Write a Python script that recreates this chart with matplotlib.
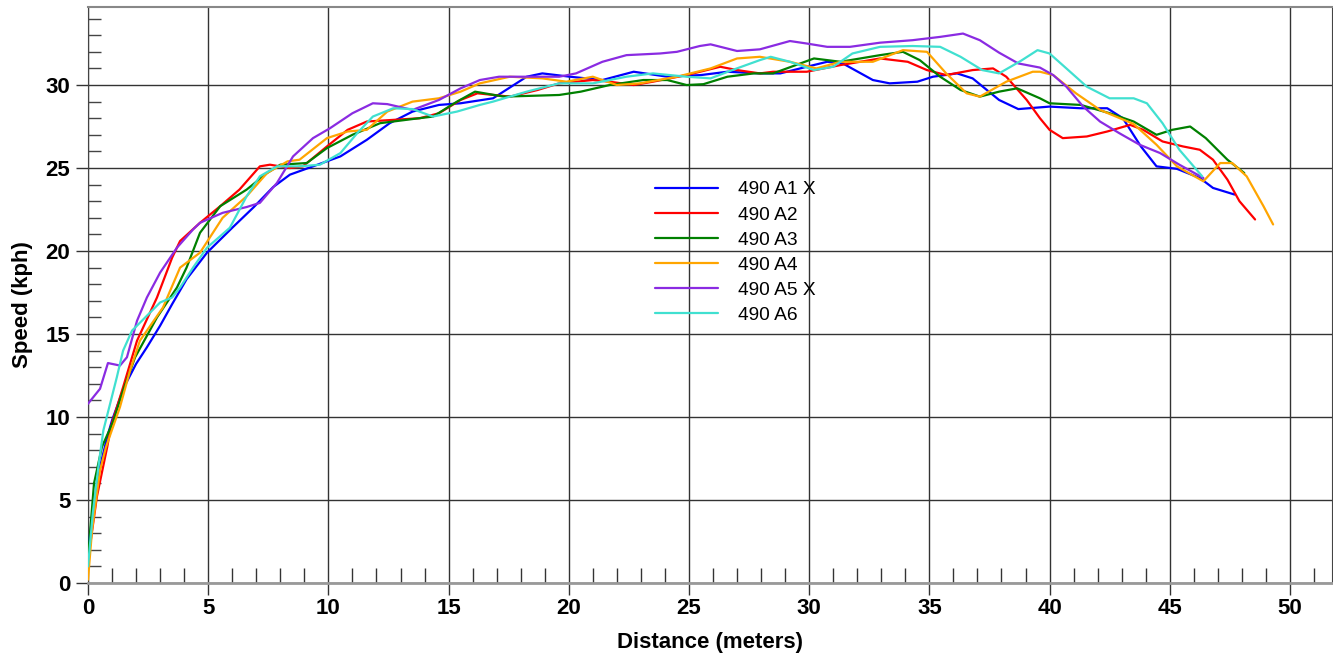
import matplotlib
matplotlib.use("Agg")
import matplotlib.pyplot as plt
from matplotlib.ticker import MultipleLocator, FixedLocator

plt.rcParams['font.family'] = ['Liberation Sans', 'DejaVu Sans']

labels = ["490 A1 X", "490 A2", "490 A3", "490 A4", "490 A5 X", "490 A6"]
colors = ["#0000ff", "#ff0000", "#008000", "#ffa500", "#8a2be2", "#40e0d0"]

a1_x = [0, 0.25, 0.5, 0.8, 1.0, 1.5, 2.0, 2.45, 3.0, 3.5, 4.1, 4.95, 6.0, 6.9, 7.7, 8.4, 9.36, 10.5,
        11.6, 12.55, 13.5, 14.6, 15.5, 16.85, 18.25, 18.9, 20.05, 21.4, 22.7, 24.1, 25.5, 26.6, 27.95,
        28.8, 29.9, 30.75, 31.4, 32.65, 33.35, 34.5, 35.15, 36.15, 36.8, 37.9, 38.7, 40.0, 41.3, 42.4,
        43.05, 43.8, 44.45, 45.3, 46.25, 46.8, 47.7]
a1_y = [2.0, 4.8, 7.0, 8.8, 9.8, 11.8, 13.2, 14.2, 15.5, 16.8, 18.3, 19.9, 21.4, 22.65, 23.85, 24.6, 25.1, 25.7,
        26.7, 27.7, 28.4, 28.8, 28.9, 29.2, 30.5, 30.7, 30.5, 30.3, 30.8, 30.5, 30.6, 30.8, 30.7,
        30.7, 31.1, 31.4, 31.3, 30.3, 30.1, 30.2, 30.5, 30.7, 30.4, 29.1, 28.55, 28.7, 28.6, 28.6,
        28.0, 26.3, 25.1, 24.95, 24.4, 23.8, 23.4]

a2_x = [0, 0.08, 0.37, 0.8, 0.95, 1.46, 2.04, 2.87, 3.5, 3.83, 4.66, 5.5, 6.3, 7.15, 7.57, 8.4, 8.94, 9.94,
        10.8, 11.6, 12.7, 13.8, 14.6, 15.5, 16.2, 17.55, 18.7, 19.6, 21.0, 21.7, 22.7, 23.5, 24.9, 26.3,
        27.0, 27.95, 28.5, 29.9, 31.3, 32.95, 34.1, 34.9, 35.7, 36.8, 37.65, 38.2, 39.05, 39.6, 40.0,
        40.55, 41.55, 42.4, 43.35, 43.9, 44.7, 45.55, 46.25, 46.8, 47.4, 47.9, 48.55]
a2_y = [1.5, 2.2, 5.2, 8.2, 9.4, 11.8, 14.6, 17.2, 19.6, 20.6, 21.7, 22.7, 23.7, 25.1, 25.2, 25.0, 25.1, 26.3,
        27.3, 27.8, 27.9, 28.0, 28.3, 29.1, 29.5, 29.3, 29.7, 30.1, 30.3, 30.2, 30.0, 30.2, 30.6, 31.1,
        30.9, 30.7, 30.8, 30.8, 31.2, 31.6, 31.4, 30.9, 30.6, 30.9, 31.0, 30.5, 29.1, 28.0, 27.3,
        26.8, 26.9, 27.2, 27.6, 27.3, 26.6, 26.3, 26.1, 25.5, 24.3, 23.0, 21.9]

a3_x = [0, 0.25, 0.58, 1.04, 1.46, 1.96, 2.87, 3.7, 4.1, 4.66, 5.5, 6.6, 7.45, 8.0, 9.1, 9.94, 11.0, 12.15,
        13.5, 14.35, 15.35, 16.1, 17.3, 19.6, 20.5, 21.7, 23.1, 24.1, 24.9, 25.6, 26.6, 27.7, 28.5, 30.2,
        31.3, 32.95, 33.9, 34.6, 35.45, 36.3, 37.1, 37.9, 38.65, 39.6, 40.0, 41.3, 42.5, 43.5, 44.45,
        45.1, 45.85, 46.5, 47.4, 48.1]
a3_y = [1.5, 6.0, 8.2, 9.7, 11.6, 13.6, 16.0, 17.8, 19.0, 21.1, 22.7, 23.7, 24.7, 25.2, 25.3, 26.2, 27.0, 27.7,
        27.95, 28.1, 29.0, 29.6, 29.3, 29.4, 29.6, 30.0, 30.3, 30.3, 30.0, 30.05, 30.5, 30.7, 30.7, 31.6,
        31.4, 31.8, 32.0, 31.5, 30.5, 29.7, 29.3, 29.6, 29.8, 29.2, 28.9, 28.8, 28.3, 27.8, 27.0,
        27.3, 27.5, 26.8, 25.5, 24.7]

a4_x = [0, 0.17, 0.5, 0.75, 1.04, 1.33, 1.75, 2.16, 3.12, 3.83, 4.66, 5.6, 6.6, 7.45, 8.3, 8.8, 9.94, 10.8,
        11.6, 12.45, 13.5, 14.6, 15.5, 16.3, 17.55, 18.9, 19.9, 21.0, 22.0, 22.95, 24.5, 25.9, 27.0,
        27.95, 29.2, 30.3, 31.3, 32.65, 33.9, 34.9, 35.7, 36.55, 37.1, 38.2, 39.3, 39.6, 40.15, 41.1,
        42.1, 43.5, 44.45, 45.3, 46.4, 47.1, 47.6, 48.2, 48.9, 49.3]
a4_y = [0.2, 3.2, 6.8, 8.2, 9.4, 10.6, 12.8, 14.6, 16.6, 19.0, 19.9, 22.0, 23.3, 24.7, 25.4, 25.5, 26.8, 27.2,
        27.3, 28.4, 29.0, 29.2, 29.6, 30.1, 30.5, 30.4, 30.2, 30.5, 30.0, 30.1, 30.5, 31.0, 31.6,
        31.7, 31.4, 31.0, 31.4, 31.4, 32.1, 32.0, 30.7, 29.5, 29.3, 30.2, 30.8, 30.8, 30.6, 29.5,
        28.5, 27.65, 26.4, 25.1, 24.2, 25.3, 25.3, 24.5, 22.7, 21.6]

a5_x = [0, 0.5, 0.83, 1.33, 1.62, 2.04, 2.45, 3.0, 3.7, 4.37, 4.66, 5.6, 6.6, 7.15, 7.86, 8.53, 9.36, 10.07,
        11.0, 11.85, 12.45, 13.5, 14.6, 15.5, 16.3, 17.1, 18.25, 19.6, 20.3, 21.4, 22.4, 23.8, 24.5,
        25.45, 25.9, 27.0, 27.95, 29.2, 29.9, 30.75, 31.7, 32.95, 34.3, 35.45, 36.4, 37.1, 37.9, 38.7,
        39.6, 40.15, 40.7, 41.4, 42.1, 42.9, 43.75, 44.6, 45.4, 46.4]
a5_y = [10.8, 11.7, 13.25, 13.1, 13.6, 15.8, 17.2, 18.7, 20.2, 21.3, 21.7, 22.3, 22.65, 22.9, 24.1, 25.7, 26.8, 27.4,
        28.3, 28.9, 28.85, 28.5, 29.1, 29.8, 30.3, 30.5, 30.5, 30.5, 30.7, 31.4, 31.8, 31.9, 32.0,
        32.35, 32.45, 32.05, 32.15, 32.65, 32.5, 32.3, 32.3, 32.55, 32.7, 32.9, 33.1, 32.7, 31.95, 31.3,
        31.05, 30.6, 29.9, 28.7, 27.8, 27.1, 26.4, 25.9, 25.2, 24.4]

a6_x = [0, 0.2, 0.45, 0.64, 0.92, 1.2, 1.46, 1.83, 2.45, 3.0, 3.5, 3.83, 4.37, 4.95, 5.9, 6.6, 7.15, 7.86,
        8.8, 9.65, 10.5, 11.2, 11.85, 12.7, 13.5, 14.35, 15.35, 16.3, 16.85, 18.25, 19.6, 21.0, 22.4,
        23.5, 24.9, 25.9, 26.8, 27.95, 28.4, 29.2, 30.2, 31.0, 31.8, 32.95, 34.3, 35.45, 36.3, 37.2,
        37.9, 38.8, 39.5, 40.0, 40.7, 41.55, 42.5, 43.5, 44.05, 44.7, 45.4, 46.35]
a6_y = [1.0, 4.2, 7.2, 9.2, 10.8, 12.4, 14.0, 15.2, 16.1, 16.9, 17.2, 17.8, 19.0, 20.2, 21.4, 23.3, 24.5, 25.1,
        25.1, 25.2, 25.9, 27.1, 28.1, 28.6, 28.55, 28.1, 28.4, 28.8, 29.0, 29.6, 30.1, 30.1, 30.5,
        30.7, 30.5, 30.4, 30.9, 31.5, 31.7, 31.4, 30.9, 31.1, 31.9, 32.3, 32.35, 32.3, 31.7, 30.9,
        30.7, 31.45, 32.1, 31.9, 31.0, 29.9, 29.2, 29.2, 28.9, 27.7, 26.1, 24.5]

xs = [a1_x, a2_x, a3_x, a4_x, a5_x, a6_x]
ys = [a1_y, a2_y, a3_y, a4_y, a5_y, a6_y]

fig = plt.figure(figsize=(13.33, 6.6), dpi=100)
ax = fig.add_axes([88 / 1333, 77 / 660, 1244 / 1333, 576 / 660])

for x, y, c, lab in zip(xs, ys, colors, labels):
    ax.plot(x, y, color=c, lw=1.6, label=lab, solid_joinstyle='round',
            solid_capstyle='round', zorder=3)

ax.set_xlim(0, 51.75)
ax.set_ylim(0, 34.7)
ax.xaxis.set_major_locator(MultipleLocator(5))
ax.yaxis.set_major_locator(MultipleLocator(5))
ax.xaxis.set_minor_locator(FixedLocator([v for v in range(1, 52) if v % 5 != 0]))
ax.yaxis.set_minor_locator(FixedLocator([v for v in range(1, 35) if v % 5 != 0]))

ax.grid(True, which='major', color='#333333', lw=1.0, zorder=1)
ax.tick_params(which='major', direction='out', length=8.6, width=1.0, color='#333333',
               labelsize=16)
ax.tick_params(axis='x', which='major', pad=2)
ax.tick_params(axis='y', which='major', pad=4)
ax.tick_params(which='minor', axis='x', direction='in', length=10.8, width=1.0, color='#333333')
ax.tick_params(which='minor', axis='y', direction='in', length=9.0, width=1.0, color='#444444')
for lab in ax.get_xticklabels() + ax.get_yticklabels():
    lab.set_fontweight('bold')

ax.spines['bottom'].set_color('#999999')
ax.spines['bottom'].set_linewidth(2.0)
ax.spines['top'].set_color('#888888')
ax.spines['top'].set_linewidth(1.5)
ax.spines['left'].set_color('#444444')
ax.spines['right'].set_color('#444444')

ax.set_xlabel("Distance (meters)", fontsize=16, fontweight='bold')
ax.set_ylabel("Speed (kph)", fontsize=16, fontweight='bold')
ax.xaxis.set_label_coords(0.5, -0.085)
ax.yaxis.set_label_coords(-0.044, 0.483)

ax.legend(loc='upper left', bbox_to_anchor=((655 - 88) / 1244, (583 - 181) / 576),
          frameon=False, fontsize=13.8, handlelength=3.3, handletextpad=1.05,
          labelspacing=0.4, borderpad=0, borderaxespad=0)

fig.savefig("out.png", dpi=100)
